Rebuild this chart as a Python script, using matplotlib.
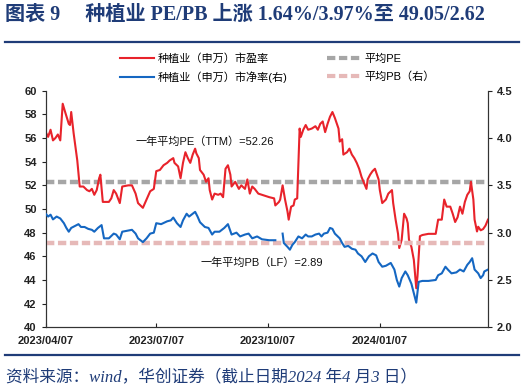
import matplotlib
matplotlib.use("Agg")
import matplotlib.pyplot as plt
import matplotlib.dates as mdates
from matplotlib.lines import Line2D
import numpy as np
import pandas as pd

plt.rcParams["font.family"] = ["Liberation Sans", "Noto Sans CJK SC"]
plt.rcParams["lines.scale_dashes"] = False

START = pd.Timestamp("2023-04-07")

# PE (left axis): day offset from START, value
pe_days = [0, 2, 4, 6, 8, 10, 12, 14, 16, 19, 20, 21, 23, 26, 28, 31, 34, 36, 38, 40,
           42, 44, 45, 47, 52, 54, 56, 58, 61, 63, 68, 71, 74, 76, 80, 83, 86, 89, 91, 94,
           97, 100, 102, 105, 106, 109, 111, 113, 115, 117, 119, 121, 123, 124, 126, 127,
           130, 132, 134, 135, 137, 139, 142, 144, 146, 148, 150, 152, 153, 156, 159, 161,
           164, 166, 168, 170, 172, 175, 178,
           184, 188, 189, 192, 193, 195, 197, 199, 200, 202, 204, 205, 207, 209, 210, 212,
           214, 216, 219, 222, 224, 226, 228, 230, 232, 234, 236, 238, 241, 242, 244, 245,
           248, 250, 252, 254, 256, 258, 260, 262, 264, 265, 267, 269, 271, 274, 275, 277,
           280, 282, 285, 286, 288, 290, 291, 293, 295, 297, 298, 299, 301, 303, 305, 306,
           308, 310, 315, 321, 323, 326, 328, 330, 333, 335, 337, 339, 341, 343, 345, 347,
           349, 350, 352, 353, 355, 356, 358, 360, 362, 364]
pe_vals = [56.5, 56.1, 56.7, 55.8, 56.0, 56.3, 55.8, 58.9, 58.2, 57.2, 57.1, 58.2, 56.4, 54.1,
           51.9, 51.9, 51.6, 51.5, 51.7, 51.2, 51.6, 52.6, 52.9, 50.6, 50.6, 50.9, 51.6, 51.3,
           50.5, 51.9, 52.0, 52.0, 51.3, 50.5, 50.1, 50.8, 51.5, 51.7, 53.2, 53.3, 53.7, 53.9,
           54.1, 54.3, 53.9, 53.6, 52.6, 53.9, 54.8, 54.3, 53.9, 54.6, 55.1, 54.7, 54.3, 53.3,
           52.9, 52.3, 52.6, 51.6, 50.8, 51.3, 51.2, 51.3, 51.0, 53.4, 53.7, 52.9, 51.9, 52.3,
           51.7, 52.0, 51.7, 52.5, 51.3, 51.9, 51.7, 51.3, 51.2,
           51.0, 50.9, 50.3, 50.6, 50.8, 52.0, 50.8, 49.8, 49.1, 50.2, 50.3, 50.8, 50.9, 56.8,
           56.1, 56.7, 57.1, 56.7, 56.8, 57.0, 56.7, 57.2, 57.4, 56.5, 57.2, 57.8, 58.2, 57.7,
           56.8, 55.7, 55.9, 54.6, 54.8, 55.1, 54.6, 54.3, 53.9, 53.4, 52.7, 52.2, 51.7, 52.5,
           52.9, 53.2, 53.4, 52.5, 51.6, 50.5, 50.8, 51.3, 51.6, 50.5, 49.1, 47.9, 46.7, 47.4,
           49.6, 49.2, 48.8, 47.4, 46.8, 45.7, 43.3, 44.3, 47.7, 47.8, 47.9, 47.9, 49.1, 49.1,
           50.8, 50.2, 50.2, 49.6, 48.9, 49.3, 50.2, 49.6, 50.6, 51.2, 51.5, 52.3, 50.8, 49.1,
           48.1, 48.5, 48.2, 48.3, 48.6, 49.1]

# PB (right axis); NaN marks the missing stretch in early October
pb_days = [0, 2, 4, 6, 9, 12, 15, 17, 19, 21, 24, 27, 29, 32, 35, 38, 40, 43, 46, 48, 52,
           56, 58, 61, 63, 67, 71, 74, 76, 80, 83, 86, 89, 91, 95, 100, 103, 105, 108, 111,
           113, 116, 118, 121, 123, 125, 127, 131, 134, 137, 139, 143, 147, 150, 153, 157,
           160, 164, 167, 170, 174, 178, 184, 189, 192,
           195, 196, 199, 201, 203, 205, 208, 211, 214, 216, 219, 222, 225, 227, 229, 232,
           234, 236, 238, 242, 244, 246, 249, 252, 255, 257, 260, 263, 266, 269, 272, 274,
           277, 280, 284, 287, 289, 291, 293, 296, 298, 301, 303, 305, 307, 310, 315, 321,
           323, 326, 329, 331, 334, 338, 341, 344, 347, 349, 351, 353, 356, 358, 360, 361, 364]
pb_vals = [3.20, 3.17, 3.19, 3.14, 3.17, 3.15, 3.10, 3.05, 3.01, 3.05, 3.07, 3.09, 3.06, 3.06,
           3.04, 3.03, 3.01, 3.05, 3.08, 2.94, 2.94, 2.99, 2.98, 2.93, 3.01, 3.02, 3.03, 2.99,
           2.94, 2.90, 2.94, 2.99, 3.00, 3.10, 3.09, 3.12, 3.13, 3.16, 3.10, 3.06, 3.13, 3.20,
           3.17, 3.20, 3.22, 3.17, 3.11, 3.06, 3.05, 2.98, 3.01, 3.01, 3.05, 3.09, 2.98, 3.00,
           2.96, 2.98, 2.99, 2.94, 2.96, 2.93, 2.92, 2.92, np.nan,
           2.99, 2.89, 2.85, 2.82, 2.87, 2.90, 2.96, 2.94, 2.98, 2.96, 2.96, 2.98, 2.99, 2.96,
           2.99, 3.00, 3.05, 3.04, 2.99, 2.94, 2.89, 2.85, 2.86, 2.83, 2.82, 2.78, 2.75, 2.69,
           2.75, 2.78, 2.76, 2.69, 2.64, 2.65, 2.68, 2.61, 2.50, 2.43, 2.52, 2.59, 2.55, 2.46,
           2.36, 2.26, 2.48, 2.49, 2.49, 2.50, 2.55, 2.57, 2.64, 2.61, 2.57, 2.58, 2.61, 2.59,
           2.66, 2.69, 2.73, 2.61, 2.57, 2.52, 2.55, 2.59, 2.61]

PE_AVG = 52.26
PB_AVG = 2.89
x_ticks = ["2023-04-07", "2023-07-07", "2023-10-07", "2024-01-07"]

pe_dates = START + pd.to_timedelta(pe_days, unit="D")
pb_dates = START + pd.to_timedelta(pb_days, unit="D")

RED = "#E8232B"
BLUE = "#1567C2"
GREY = "#A6A6A6"
PINK = "#E6B9B8"
NAVY = "#1F3C78"

fig = plt.figure(figsize=(5.24, 3.9), dpi=100)
ax = fig.add_axes([0.0872, 0.1608, 0.8440, 0.6066])
ax2 = ax.twinx()

ax.plot(pe_dates, pe_vals, color=RED, lw=1.5, zorder=3)
ax.axhline(PE_AVG, color=GREY, lw=3.2, dashes=(6, 2.6), zorder=2)
ax2.plot(pb_dates, pb_vals, color=BLUE, lw=1.5, zorder=3)
ax2.axhline(PB_AVG, color=PINK, lw=3.2, dashes=(6, 2.6), zorder=2)

ax.set_xlim(pe_dates[0], pe_dates[-1])
ax.set_ylim(40, 60)
ax.set_yticks(np.arange(40, 61, 2))
ax2.set_ylim(2.0, 4.5)
ax2.set_yticks(np.arange(2.0, 4.51, 0.5))
ax2.yaxis.set_major_formatter(plt.FormatStrFormatter("%.1f"))
ax.set_xticks(pd.to_datetime(x_ticks))
ax.xaxis.set_major_formatter(mdates.DateFormatter("%Y/%m/%d"))

for a in (ax, ax2):
    a.spines["top"].set_visible(False)
    for s in a.spines.values():
        s.set_linewidth(0.8)
        s.set_color("#333333")
    a.tick_params(labelsize=8, width=0.8, length=3, colors="#222222")
    for lab in a.get_xticklabels() + a.get_yticklabels():
        lab.set_fontweight("bold")
ax.tick_params(axis="x", direction="in", pad=6)

ax.text(START + pd.Timedelta(days=131), 55.7, "一年平均PE（TTM）=52.26",
        ha="center", va="center", fontsize=8, color="#111111")
ax.text(START + pd.Timedelta(days=178), 45.5, "一年平均PB（LF）=2.89",
        ha="center", va="center", fontsize=8, color="#111111")

handles = [Line2D([], [], color=RED, lw=1.5),
           Line2D([], [], color=BLUE, lw=1.5),
           Line2D([], [], color=GREY, lw=3, dashes=(6, 2.6)),
           Line2D([], [], color=PINK, lw=3, dashes=(6, 2.6))]
labels = ["种植业（申万）市盈率", "种植业（申万）市净率(右)", "平均PE", "平均PB（右）"]
fig.legend(handles, labels, ncol=2, loc="center", bbox_to_anchor=(0.53, 0.825),
           frameon=False, fontsize=8, handlelength=3, columnspacing=3.5,
           labelspacing=0.6, handletextpad=0.4)

fig.text(0.01, 0.962, "图表 9     种植业 PE/PB 上涨 1.64%/3.97%至 49.05/2.62",
         family=["Liberation Serif", "Noto Sans CJK SC"], fontweight="bold",
         fontsize=14.5, color=NAVY, va="center", ha="left")
fig.add_artist(Line2D([0.01, 0.99], [0.893, 0.893], color=NAVY, lw=1.6))
fig.add_artist(Line2D([0.01, 0.99], [0.090, 0.090], color=NAVY, lw=1.6))
fig.text(0.012, 0.033, "资料来源：wind，华创证券（截止日期2024 年4 月3 日）",
         family=["Liberation Serif", "Noto Sans CJK SC"], style="italic",
         fontsize=12, color=NAVY, va="center", ha="left")

fig.savefig("out.png", dpi=100)
